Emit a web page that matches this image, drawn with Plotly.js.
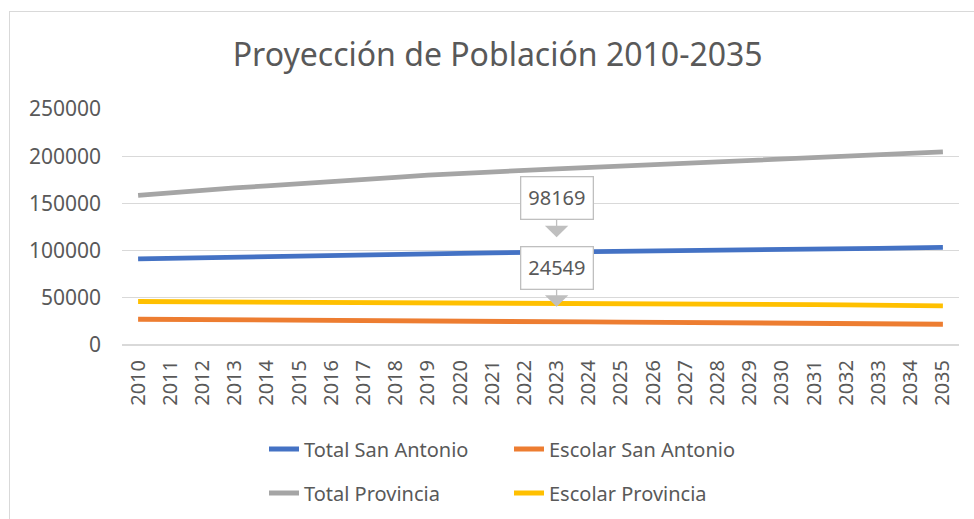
<!DOCTYPE html>
<html>
<head>
<meta charset="utf-8">
<script src="https://cdn.plot.ly/plotly-3.0.1.min.js"></script>
<style>
html,body{margin:0;padding:0;background:#fff;}
#frame{position:absolute;left:9px;top:11px;width:1000px;height:600px;border:1.5px solid #d9d9d9;box-sizing:border-box;}
#chart{position:absolute;left:0;top:0;width:974px;height:519px;}
</style>
</head>
<body>
<div id="frame"></div>
<div id="chart"></div>
<script>
const years = ['2010','2011','2012','2013','2014','2015','2016','2017','2018','2019','2020','2021','2022','2023','2024','2025','2026','2027','2028','2029','2030','2031','2032','2033','2034','2035'];
const totalSanAntonio = [91200,91900,92500,93000,93500,94100,94700,95300,95900,96500,97000,97600,97900,98169,98600,99000,99400,99800,100200,100600,101000,101400,101900,102400,102900,103400];
const escolarSanAntonio = [27300,27000,26800,26500,26300,26000,25800,25500,25300,25100,24900,24800,24650,24549,24400,24300,24200,24000,23800,23600,23300,23100,22800,22600,22300,22000];
const totalProvincia = [158500,161500,164000,166500,168500,170500,172500,175000,177500,180000,182000,183500,185000,186500,188000,189500,191000,192500,194000,195500,197000,198500,200000,201500,203000,204500];
const escolarProvincia = [46100,46000,45900,45700,45500,45300,45100,45000,44800,44700,44500,44400,44300,44200,44000,43900,43800,43600,43400,43200,42900,42700,42400,42100,41800,41500];
const seriesNames = ['Total San Antonio','Escolar San Antonio','Total Provincia','Escolar Provincia'];
const calloutIndex = 13;

const FONT = 'Noto Sans, sans-serif';
const TXT = '#595959';

function tr(name, y, color, legend){
  return {type:'scatter', mode:'lines', x:years, y:y, name:name, legend:legend,
    line:{color:color, width:4.8, shape:'linear'}, hoverinfo:'x+y+name'};
}
const data = [
  tr(seriesNames[0], totalSanAntonio, '#4472C4', 'legend'),
  tr(seriesNames[1], escolarSanAntonio, '#ED7D31', 'legend'),
  tr(seriesNames[2], totalProvincia, '#A5A5A5', 'legend2'),
  tr(seriesNames[3], escolarProvincia, '#FFC000', 'legend2')
];

function callout(series){
  return {x:calloutIndex, y:series[calloutIndex], text:String(series[calloutIndex]),
    showarrow:true, arrowhead:1, arrowsize:3, arrowwidth:1.3, arrowcolor:'#bfbfbf',
    ax:0, ay:-54, standoff:15, bgcolor:'#ffffff', bordercolor:'#bfbfbf', borderwidth:1.3,
    borderpad:7, font:{family:FONT, size:20, color:TXT}};
}

const legendCommon = {orientation:'h', xanchor:'left', yanchor:'middle', bgcolor:'rgba(0,0,0,0)',
  font:{family:FONT, size:20, color:TXT}, entrywidth:200, entrywidthmode:'pixels', itemwidth:30,
  xref:'container', yref:'container'};

const layout = {
  width:974, height:519,
  paper_bgcolor:'rgba(0,0,0,0)', plot_bgcolor:'rgba(0,0,0,0)',
  margin:{l:122, r:15, t:109, b:174},
  title:{text:'Proyección de Población 2010-2035', font:{family:FONT, size:32, color:TXT},
    x:0.511, xanchor:'center', xref:'container', y:1-55/519, yanchor:'middle', yref:'container'},
  xaxis:{type:'category', range:[-0.5, years.length-0.5], autorange:false, tickangle:-90,
    tickfont:{family:FONT, size:20, color:TXT}, ticklabelstandoff:10,
    showgrid:false, showline:false, ticks:'', ticklen:0, automargin:false},
  yaxis:{range:[0,250000], autorange:false, tickvals:[0,50000,100000,150000,200000,250000],
    ticktext:['0','50000','100000','150000','200000','250000'],
    tickfont:{family:FONT, size:21, color:TXT}, gridcolor:'#d9d9d9', gridwidth:1.2,
    zeroline:true, zerolinecolor:'#d9d9d9', zerolinewidth:1.2, showline:false, ticks:'', ticklabelstandoff:20, automargin:false},
  legend:Object.assign({}, legendCommon, {x:264/974, y:1-449/519}),
  legend2:Object.assign({}, legendCommon, {x:264/974, y:1-493/519}),
  showlegend:true,
  annotations:[callout(totalSanAntonio), callout(escolarSanAntonio)]
};

Plotly.newPlot('chart', data, layout, {displayModeBar:false, staticPlot:true});
</script>
</body>
</html>
